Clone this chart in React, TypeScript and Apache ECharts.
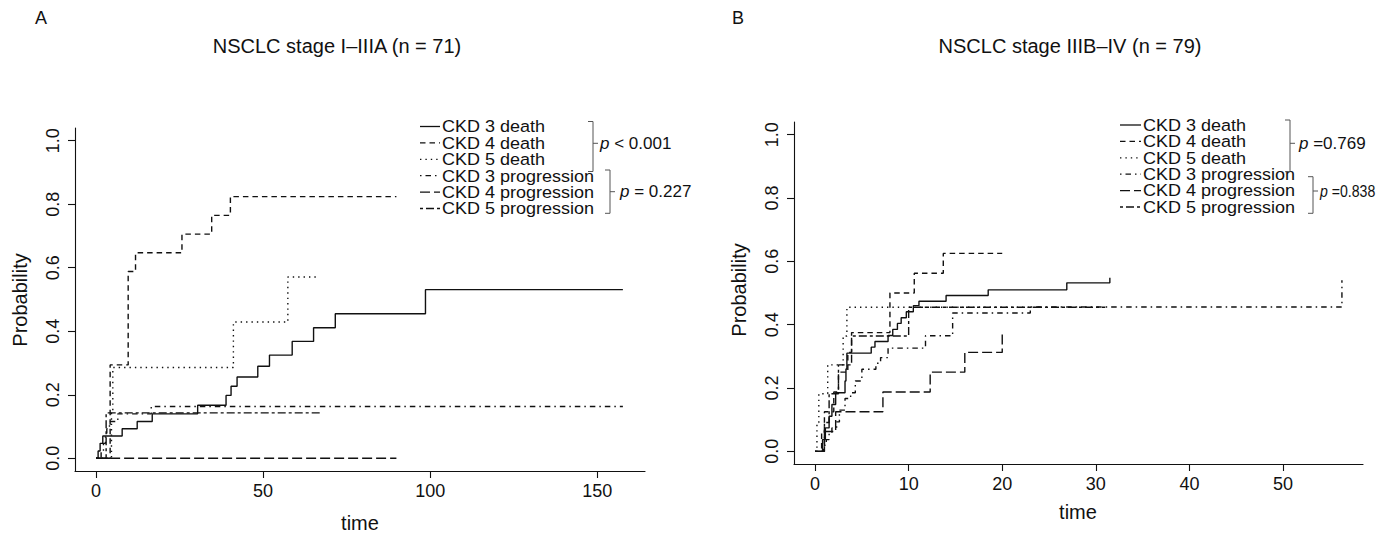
import React, { useEffect, useRef } from 'react';
import * as echarts from 'echarts';

const FONT = '"Liberation Sans", Arial, Helvetica, sans-serif';
const INK = '#111';

// ---------- labels ----------
const seriesNames = [
  'CKD 3 death',
  'CKD 4 death',
  'CKD 5 death',
  'CKD 3 progression',
  'CKD 4 progression',
  'CKD 5 progression',
];
const titleA = 'NSCLC stage I–IIIA (n = 71)';
const titleB = 'NSCLC stage IIIB–IV (n = 79)';
const pValuesA = ['< 0.001', '= 0.227'];
const pValuesB = ['=0.769', '=0.838'];
const xTicksA = [0, 50, 100, 150];
const xTicksB = [0, 10, 20, 30, 40, 50];
const yTicks = [0, 0.2, 0.4, 0.6, 0.8, 1.0];

// ---------- Panel A: [time, probability] ----------
const aCkd3Death: [number, number][] = [
  [0, 0], [0.6, 0.023], [1.2, 0.047], [2.0, 0.07], [7.8, 0.093], [12.3, 0.116],
  [16.8, 0.14], [30.4, 0.167], [38.9, 0.198], [40.4, 0.227], [42.2, 0.256],
  [48.4, 0.29], [51.9, 0.325], [58.7, 0.368], [65.1, 0.411], [71.6, 0.455],
  [98.6, 0.531], [157.7, 0.531],
];
const aCkd4Death: [number, number][] = [
  [0, 0], [4.2, 0.294], [9.6, 0.588], [11.8, 0.647], [25.7, 0.706],
  [34.6, 0.765], [40.2, 0.824], [89.9, 0.824],
];
const aCkd5Death: [number, number][] = [
  [0, 0], [4.6, 0.143], [5.0, 0.286], [41.1, 0.429], [57.4, 0.571], [66.4, 0.571],
];
const aCkd3Prog: [number, number][] = [
  [0, 0], [1.5, 0.023], [2.2, 0.047], [2.8, 0.07], [3.2, 0.093], [4.0, 0.116],
  [6.5, 0.14], [16.5, 0.163], [157.7, 0.163],
];
const aCkd4Prog: [number, number][] = [[0, 0], [89.9, 0]];
const aCkd5Prog: [number, number][] = [[0, 0], [3.0, 0.143], [67.4, 0.143]];

// ---------- Panel B ----------
const bCkd3Death: [number, number][] = [
  [0, 0], [0.8, 0.037], [1.1, 0.074], [1.5, 0.111], [1.8, 0.148], [2.2, 0.185],
  [3.2, 0.222], [3.3, 0.26], [3.4, 0.31], [6.0, 0.329], [6.4, 0.347], [7.8, 0.366],
  [8.3, 0.385], [8.8, 0.404], [9.2, 0.422], [9.75, 0.441], [10.5, 0.46],
  [11.1, 0.474], [14.0, 0.492], [18.5, 0.51], [26.9, 0.532], [31.5, 0.548],
];
const bCkd4Death: [number, number][] = [
  [0, 0], [0.7, 0.0625], [1.0, 0.125], [2.0, 0.1875], [2.5, 0.25], [3.5, 0.3125],
  [3.9, 0.375], [8.0, 0.5], [10.6, 0.5625], [13.7, 0.625], [20.0, 0.625],
];
const bCkd5Death: [number, number][] = [
  [0, 0], [0.2, 0.091], [0.4, 0.182], [1.35, 0.273], [3.0, 0.364], [3.4, 0.455],
  [24.0, 0.455],
];
const bCkd3Prog: [number, number][] = [
  [0, 0], [0.9, 0.019], [1.2, 0.037], [1.5, 0.056], [1.8, 0.074], [2.3, 0.093],
  [2.6, 0.13], [3.2, 0.167], [3.8, 0.185], [4.3, 0.222], [5.0, 0.259],
  [6.5, 0.278], [7.0, 0.296], [7.8, 0.326], [11.8, 0.365], [14.7, 0.437],
  [23.0, 0.456], [56.3, 0.54],
];
const bCkd4Prog: [number, number][] = [
  [0, 0], [1.0, 0.0625], [2.2, 0.125], [7.25, 0.1875], [12.3, 0.25],
  [16.0, 0.3125], [20.0, 0.375],
];
const bCkd5Prog: [number, number][] = [
  [0, 0], [1.0, 0.091], [1.5, 0.182], [2.5, 0.273], [3.9, 0.364], [10.0, 0.455],
  [31.0, 0.455],
];

const panelA = [aCkd3Death, aCkd4Death, aCkd5Death, aCkd3Prog, aCkd4Prog, aCkd5Prog];
const panelB = [bCkd3Death, bCkd4Death, bCkd5Death, bCkd3Prog, bCkd4Prog, bCkd5Prog];

// R line types: solid, dashed, dotted, dotdash, longdash, twodash
const dashes: (number[] | 'solid')[] = [
  'solid', [5.5, 4], [1.4, 4], [1.5, 4, 5.5, 4], [10, 4], [3, 3, 8, 3],
];

function xAxis(gridIndex: number, min: number, max: number, ticks: number[]) {
  return {
    gridIndex, type: 'value', min, max,
    axisLine: { show: true, onZero: false, lineStyle: { color: INK, width: 1.1 } },
    axisTick: { show: true, length: 7, customValues: ticks, lineStyle: { color: INK, width: 1.1 } },
    axisLabel: { customValues: ticks, fontSize: 18, color: INK, fontFamily: FONT, margin: 11 },
    splitLine: { show: false },
  };
}
function yAxis(gridIndex: number) {
  return {
    gridIndex, type: 'value', min: -0.04, max: 1.04,
    axisLine: { show: true, onZero: false, lineStyle: { color: INK, width: 1.1 } },
    axisTick: { show: true, length: 7, customValues: yTicks, lineStyle: { color: INK, width: 1.1 } },
    axisLabel: {
      customValues: yTicks, rotate: 90, fontSize: 18, color: INK, fontFamily: FONT, margin: 13,
      formatter: (v: number) => v.toFixed(1),
    },
    splitLine: { show: false },
  };
}

function txt(x: number, y: number, text: string, size: number, align = 'center', rotation = 0, sx = 1) {
  return {
    type: 'text', x, y, rotation, scaleX: sx,
    style: { text, fontSize: size, fontFamily: FONT, fill: INK, align, verticalAlign: 'middle' },
  };
}

function legend(x1: number, x2: number, tx: number, y0: number, step: number) {
  const els: any[] = [];
  seriesNames.forEach((name, i) => {
    const y = y0 + i * step;
    const d = dashes[i];
    els.push({
      type: 'line', shape: { x1, y1: y, x2, y2: y },
      style: { stroke: INK, lineWidth: 1.3, lineDash: d === 'solid' ? null : d },
    });
    els.push(txt(tx, y, name, 17, 'left', 0, 1.06));
  });
  return els;
}

function bracket(x: number, top: number, bot: number, mid: number, tx: number, pv: string, sx = 1) {
  return [
    {
      type: 'polyline',
      shape: { points: [[x - 5, top], [x, top], [x, bot], [x - 5, bot]] },
      style: { stroke: '#555', lineWidth: 1, fill: null },
    },
    { type: 'line', shape: { x1: x, y1: mid, x2: x + 5, y2: mid }, style: { stroke: '#555', lineWidth: 1 } },
    {
      type: 'text', x: tx, y: mid, scaleX: sx,
      style: {
        text: '{i|p} ' + pv,
        rich: { i: { fontStyle: 'italic', fontSize: 17, fontFamily: FONT, fill: INK } },
        fontSize: 17, fontFamily: FONT, fill: INK, align: 'left', verticalAlign: 'middle',
      },
    },
  ];
}

function buildSeries(data: [number, number][][], idx: number) {
  return data.map((d, i) => ({
    name: seriesNames[i] + (idx ? ' B' : ' A'),
    type: 'line', xAxisIndex: idx, yAxisIndex: idx, data: d, step: 'end',
    symbol: 'none', showSymbol: false,
    lineStyle: { color: INK, width: 1.4, type: dashes[i] },
  }));
}

export default function App() {
  const ref = useRef<HTMLDivElement>(null);
  useEffect(() => {
    const chart = echarts.init(ref.current!, null, { renderer: 'svg' });
    chart.setOption({
      animation: false,
      backgroundColor: '#fff',
      grid: [
        { left: 75, top: 128, width: 570, height: 343 },
        { left: 794, top: 122, width: 569, height: 342 },
      ],
      xAxis: [xAxis(0, -6.32, 164.32, xTicksA), xAxis(1, -2.252, 58.552, xTicksB)],
      yAxis: [yAxis(0), yAxis(1)],
      series: [...buildSeries(panelA, 0), ...buildSeries(panelB, 1)],
      graphic: [
        txt(41, 18, 'A', 18),
        txt(738, 18, 'B', 18),
        txt(337, 46, titleA, 20),
        txt(1070, 46, titleB, 20),
        txt(20, 300, 'Probability', 20, 'center', Math.PI / 2),
        txt(739, 290, 'Probability', 20, 'center', Math.PI / 2),
        txt(360, 523, 'time', 20),
        txt(1078, 512, 'time', 20),
        ...legend(420, 440, 442, 126.5, 16.4),
        ...legend(1120, 1141, 1143, 125, 16.4),
        ...bracket(593, 121.5, 171.5, 143.3, 600, pValuesA[0]),
        ...bracket(610, 170, 213.3, 191.7, 620, pValuesA[1]),
        ...bracket(1290, 120, 171.7, 143.3, 1299, pValuesB[0]),
        ...bracket(1313, 176.7, 213.3, 191, 1320, pValuesB[1], 0.83),
      ],
    });
    return () => chart.dispose();
  }, []);
  return (
    <div
      ref={ref}
      style={{ position: 'fixed', left: 0, top: 0, width: 1376, height: 534, background: '#fff' }}
    />
  );
}
